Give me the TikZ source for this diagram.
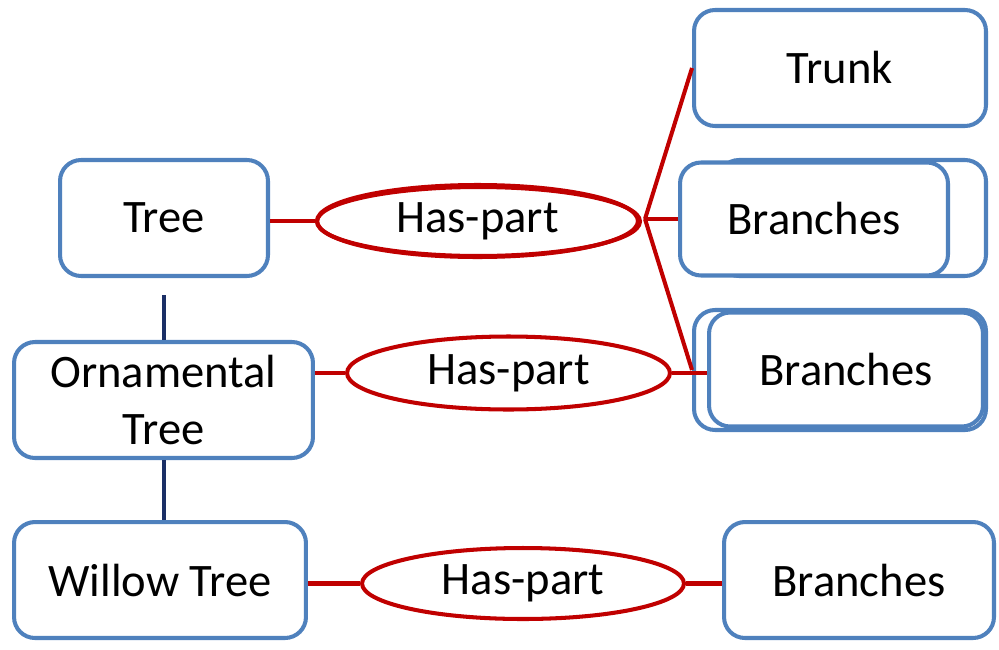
\documentclass[tikz,border=0pt]{standalone}
\usepackage{fontspec}
\setmainfont{Carlito}
\usepackage{tikz}
\usepackage{xcolor}
\usetikzlibrary{shapes.geometric}

\definecolor{boxblue}{HTML}{4F81BD}
\definecolor{relred}{HTML}{C00000}
\definecolor{isanavy}{HTML}{1B2F66}

\tikzset{
  concept/.style={draw=boxblue, line width=2.3pt, rounded corners=0.42cm,
    fill=white, inner sep=0pt, align=center,
    font=\fontsize{26.5}{32.5}\selectfont},
  relation/.style={ellipse, draw=relred, line width=2.3pt, fill=white,
    inner sep=0pt, font=\fontsize{26.5}{32.5}\selectfont},
  haspart/.style={draw=relred, line width=2.3pt},
  isa/.style={draw=isanavy, line width=2.3pt},
}

\begin{document}
\begin{tikzpicture}[x=0.02cm,y=-0.02cm]
  \useasboundingbox (0,0) rectangle (999,649);

  \node (tree) [concept, minimum width=4.16cm, minimum height=2.32cm] at (164,218) {Tree};
  \node (orn) [concept, minimum width=5.98cm, minimum height=2.32cm] at (163.5,400) {Ornamental\\Tree};
  \node (willow) [concept, minimum width=5.84cm, minimum height=2.32cm] at (160,580) {Willow Tree};

  \node (trunk) [concept, minimum width=5.84cm, minimum height=2.32cm] at (840,68) {Trunk};
  \node (bra2) [concept, minimum width=5.36cm, minimum height=2.32cm] at (852,218) {};
  \node (bra) [concept, minimum width=5.36cm, minimum height=2.26cm] at (814,219) {Branches};
  \node (brb2) [concept, minimum width=5.84cm, minimum height=2.40cm] at (840,370) {};
  \node (brb) [concept, minimum width=5.48cm, minimum height=2.28cm] at (846,369.5) {Branches};
  \node (brc) [concept, minimum width=5.40cm, minimum height=2.32cm] at (859,580) {Branches};

  \node (has1) [relation, minimum width=6.42cm, minimum height=1.44cm] at (477.5,221) {Has-part};
  \node (has1b) [relation, fill=none, minimum width=6.46cm, minimum height=1.38cm] at (478.5,221.5) {};
  \node (has2) [relation, minimum width=6.46cm, minimum height=1.46cm] at (508.5,373) {Has-part};
  \node (has3) [relation, minimum width=6.44cm, minimum height=1.42cm] at (523,583.5) {Has-part};

  \path (node cs:name=has1,anchor=east) +(5,-2) coordinate (hubo) {};
  \draw[haspart] (tree.east |- has1.west) -- (has1.west);
  \draw[haspart] (hubo) -- (trunk.west);
  \draw[haspart] (hubo) -- (bra.west);
  \draw[haspart] (hubo) -- (brb2.west);
  \draw[haspart] (orn.east |- has2.west) -- (has2.west);
  \draw[haspart] (has2.east) -- (has2.east -| brb.west);
  \draw[haspart] (willow.east |- has3.west) -- (has3.west);
  \draw[haspart] (has3.east) -- (has3.east -| brc.west);

  \draw[isa, shorten <=0.34cm] (tree.south) -- (tree.south |- orn.north);
  \draw[isa] (tree.south |- orn.south) -- (tree.south |- willow.north);
\end{tikzpicture}
\end{document}
